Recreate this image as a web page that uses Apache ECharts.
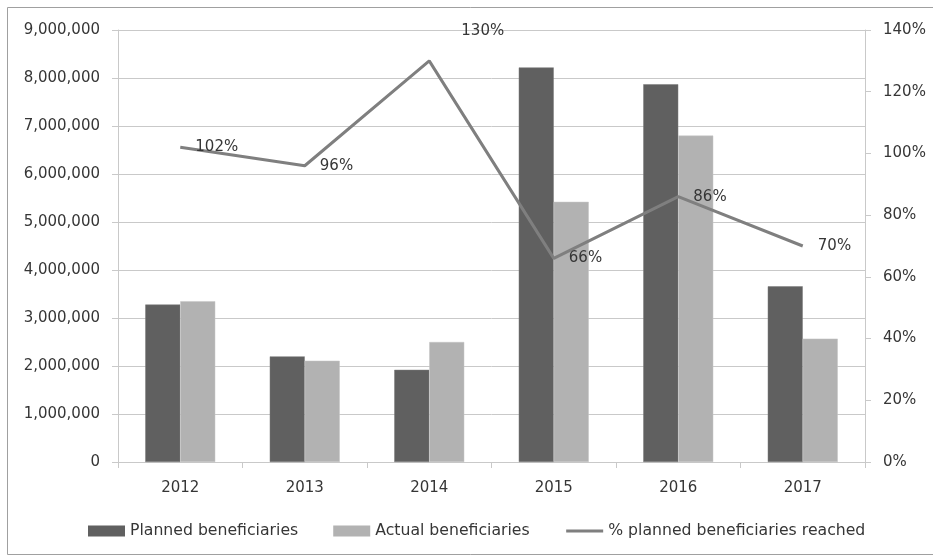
<!DOCTYPE html>
<html>
<head>
<meta charset="utf-8">
<script src="https://cdn.jsdelivr.net/npm/echarts@6/dist/echarts.min.js"></script>
<style>
  html, body { margin: 0; padding: 0; background: #fff; }
  #chart { width: 933px; height: 556px; }
</style>
</head>
<body>
<div id="chart"></div>
<script>
// data
var years = ['2012', '2013', '2014', '2015', '2016', '2017']
var planned = [3280000, 2200000, 1920000, 8220000, 7870000, 3660000]
var actual = [3350000, 2110000, 2500000, 5420000, 6800000, 2570000]
var reached = [102, 96, 130, 66, 86, 70] // percent

var leftTicks = { min: 0, max: 9000000, step: 1000000 }
var rightTicks = { min: 0, max: 140, step: 20 }

var font = 'DejaVu Sans'
var txt = '#363636'
var gridColor = '#c9c9c9'

var chart = echarts.init(document.getElementById('chart'))

// 130% label sits up and to the right of its point
var lineData = reached.map(function (v, i) {
  if (i === 2) {
    return { value: v, label: { offset: [17, -30] } }
  }
  return v
})

chart.setOption({
  animation: false,
  textStyle: { fontFamily: font },
  graphic: [{
    type: 'rect',
    shape: { x: 7.5, y: 7.5, width: 940, height: 547 },
    style: { fill: 'none', stroke: '#a0a0a0', lineWidth: 1 },
    silent: true
  }],
  grid: { left: 118, right: 68, top: 30, bottom: 94 },
  legend: {
    left: 88,
    top: 523,
    padding: 0,
    itemWidth: 37,
    itemHeight: 11,
    itemGap: 35,
    itemStyle: { borderWidth: 0 },
    textStyle: { fontFamily: font, fontSize: 15.7, color: txt },
    data: [
      { name: 'Planned beneficiaries', icon: 'rect' },
      { name: 'Actual beneficiaries', icon: 'rect' },
      {
        name: '% planned beneficiaries reached',
        itemStyle: { opacity: 0 },
        lineStyle: { width: 3 }
      }
    ]
  },
  xAxis: {
    type: 'category',
    data: years,
    axisLine: { lineStyle: { color: gridColor } },
    axisTick: { show: true, length: 6, lineStyle: { color: gridColor } },
    axisLabel: { fontFamily: font, fontSize: 15, color: txt, margin: 19 }
  },
  yAxis: [
    {
      type: 'value',
      min: leftTicks.min,
      max: leftTicks.max,
      interval: leftTicks.step,
      axisLine: { show: true, lineStyle: { color: gridColor } },
      axisTick: { show: true, length: 6, lineStyle: { color: gridColor } },
      splitLine: { lineStyle: { color: gridColor } },
      axisLabel: {
        fontFamily: font, fontSize: 15, color: txt, margin: 18,
        formatter: function (v) { return v.toLocaleString('en-US') }
      }
    },
    {
      type: 'value',
      min: rightTicks.min,
      max: rightTicks.max,
      interval: rightTicks.step,
      axisLine: { show: true, lineStyle: { color: gridColor } },
      axisTick: { show: true, length: 6, lineStyle: { color: gridColor } },
      splitLine: { show: false },
      axisLabel: {
        fontFamily: font, fontSize: 15, color: txt, margin: 18,
        formatter: function (v) { return v + '%' }
      }
    }
  ],
  series: [
    {
      name: 'Planned beneficiaries',
      type: 'bar',
      data: planned,
      barWidth: 35,
      barGap: '0%',
      itemStyle: { color: '#606060', borderColor: '#7a7a7a', borderWidth: 0.5 }
    },
    {
      name: 'Actual beneficiaries',
      type: 'bar',
      data: actual,
      barWidth: 35,
      itemStyle: { color: '#b2b2b2', borderColor: '#c4c4c4', borderWidth: 0.5 }
    },
    {
      name: '% planned beneficiaries reached',
      type: 'line',
      yAxisIndex: 1,
      data: lineData,
      symbol: 'circle',
      symbolSize: 0.1,
      itemStyle: { color: '#7f7f7f' },
      lineStyle: { color: '#7f7f7f', width: 3 },
      label: {
        show: true,
        position: 'right',
        distance: 15,
        fontFamily: font,
        fontSize: 15,
        color: txt,
        formatter: '{c}%'
      },
      z: 5
    }
  ]
})
</script>
</body>
</html>
